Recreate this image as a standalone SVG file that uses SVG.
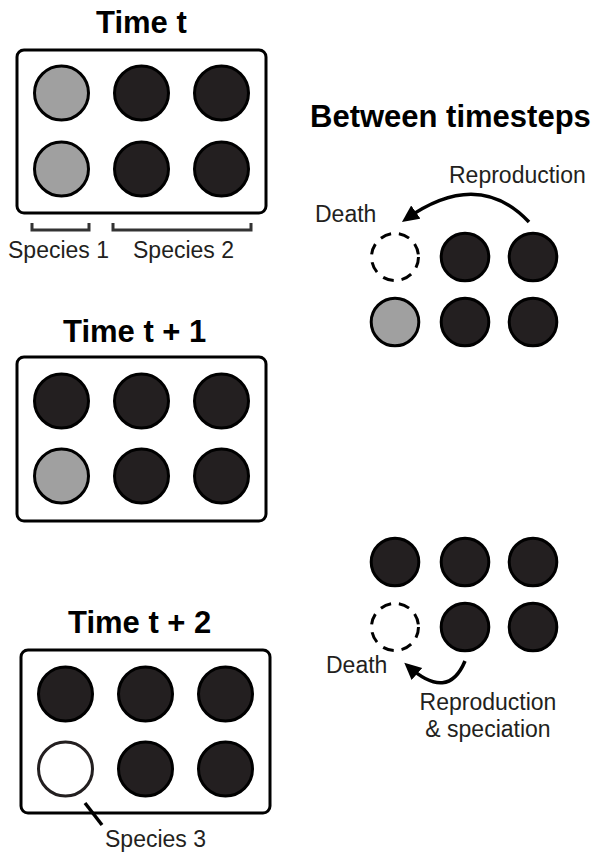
<svg xmlns="http://www.w3.org/2000/svg" width="597" height="853" viewBox="0 0 597 853">
  <defs>
    <style>
      .title { font-family: "Liberation Sans", Arial, sans-serif; font-weight: bold; font-size: 31px; fill: #000; }
      .lbl { font-family: "Liberation Sans", Arial, sans-serif; font-size: 23px; fill: #231f20; }
      .box { fill: #fff; stroke: #000; stroke-width: 3; }
      .dk { fill: #231f20; stroke: #000; stroke-width: 3; }
      .gr { fill: #a0a0a0; stroke: #000; stroke-width: 3; }
      .wh { fill: #fff; stroke: #231f20; stroke-width: 3; }
      .dash { fill: none; stroke: #000; stroke-width: 3; stroke-dasharray: 11 8; }
      .brk { fill: none; stroke: #333; stroke-width: 3; }
      .conn { fill: none; stroke: #000; stroke-width: 3.5; }
    </style>
    <marker id="ah" markerUnits="userSpaceOnUse" markerWidth="19" markerHeight="17" refX="12" refY="8" orient="auto">
      <path d="M0,0 L17,8 L0,16 z" fill="#000"/>
    </marker>
  </defs>
  <rect width="597" height="853" fill="#fff"/>

  <g id="panel-t">
    <text class="title" x="96" y="33">Time t</text>
    <rect class="box" x="17" y="50" width="249" height="163" rx="7"/>
    <circle class="gr" cx="61.5" cy="93" r="27"/>
    <circle class="dk" cx="141.5" cy="93" r="27"/>
    <circle class="dk" cx="221.5" cy="93" r="27"/>
    <circle class="gr" cx="61.5" cy="169" r="27"/>
    <circle class="dk" cx="141.5" cy="169" r="27"/>
    <circle class="dk" cx="221.5" cy="169" r="27"/>
    <path class="brk" d="M32 223 V230 H89 V223"/>
    <path class="brk" d="M113 223 V230 H251 V223"/>
    <text class="lbl" x="8" y="258">Species 1</text>
    <text class="lbl" x="133" y="258">Species 2</text>
  </g>

  <g id="panel-t1">
    <text class="title" x="63" y="342">Time t + 1</text>
    <rect class="box" x="17" y="357" width="249" height="164" rx="7"/>
    <circle class="dk" cx="61.5" cy="401" r="27"/>
    <circle class="dk" cx="141.5" cy="401" r="27"/>
    <circle class="dk" cx="221.5" cy="401" r="27"/>
    <circle class="gr" cx="61.5" cy="476" r="27"/>
    <circle class="dk" cx="141.5" cy="476" r="27"/>
    <circle class="dk" cx="221.5" cy="476" r="27"/>
  </g>

  <g id="panel-t2">
    <text class="title" x="68" y="633">Time t + 2</text>
    <rect class="box" x="21" y="650" width="249" height="163" rx="7"/>
    <circle class="dk" cx="65.5" cy="694" r="27"/>
    <circle class="dk" cx="145.5" cy="694" r="27"/>
    <circle class="dk" cx="225.5" cy="694" r="27"/>
    <circle class="wh" cx="65.5" cy="769" r="27"/>
    <circle class="dk" cx="145.5" cy="769" r="27"/>
    <circle class="dk" cx="225.5" cy="769" r="27"/>
    <text class="lbl" x="105" y="847">Species 3</text>
  </g>

  <g id="between-1">
    <text class="title" x="310" y="127">Between timesteps</text>
    <text class="lbl" x="449" y="183">Reproduction</text>
    <text class="lbl" x="315" y="222">Death</text>
    <circle class="dash" cx="395" cy="257" r="23.5"/>
    <circle class="dk" cx="465" cy="257" r="23.8"/>
    <circle class="dk" cx="533" cy="257" r="23.8"/>
    <circle class="gr" cx="395" cy="322" r="23.8"/>
    <circle class="dk" cx="465" cy="322" r="23.8"/>
    <circle class="dk" cx="533" cy="322" r="23.8"/>
  </g>

  <g id="between-2">
    <circle class="dk" cx="395" cy="562" r="23.8"/>
    <circle class="dk" cx="465" cy="562" r="23.8"/>
    <circle class="dk" cx="533" cy="562" r="23.8"/>
    <circle class="dash" cx="395" cy="627" r="23.5"/>
    <circle class="dk" cx="465" cy="627" r="23.8"/>
    <circle class="dk" cx="533" cy="627" r="23.8"/>
    <text class="lbl" x="326" y="673">Death</text>
    <text class="lbl" x="488" y="710" text-anchor="middle">Reproduction</text>
    <text class="lbl" x="488" y="737" text-anchor="middle">&amp; speciation</text>
  </g>

  <g id="connectors">
    <path class="conn" d="M529 222 Q478 168 406 219" marker-end="url(#ah)"/>
    <path class="conn" d="M465 661 Q448 702 408 666" marker-end="url(#ah)"/>
    <path class="conn" d="M85 803 L102 825"/>
  </g>
</svg>
